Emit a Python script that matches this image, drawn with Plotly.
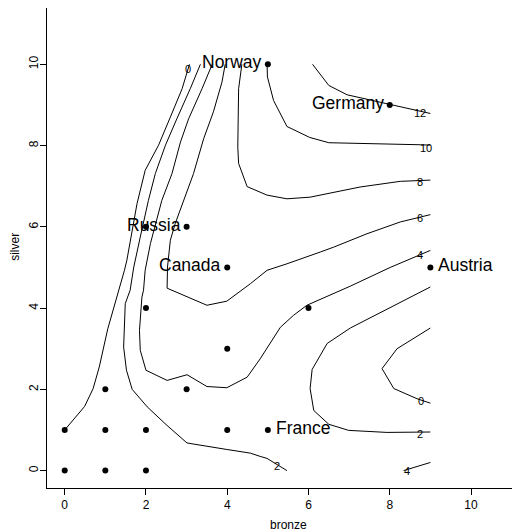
import plotly.graph_objects as go

# ---- point data (bronze, silver) ----
bronze = [0, 1, 2, 0, 1, 2, 4, 5, 1, 3, 4, 2, 6, 4, 9, 2, 3, 5, 8]
silver = [0, 0, 0, 1, 1, 1, 1, 1, 2, 2, 3, 4, 4, 5, 5, 6, 6, 10, 9]

# labelled countries
countries_left = ["Norway", "Germany", "Russia", "Canada"]
countries_left_bronze = [5, 8, 3, 4]
countries_left_silver = [10, 9, 6, 5]
countries_right = ["Austria", "France"]
countries_right_bronze = [9, 5]
countries_right_silver = [5, 1]

# ---- contour lines (bronze, silver) ----
c0a_x = [0, 0.49, 0.70, 0.85, 1.06, 1.34, 1.47, 1.53, 1.66, 1.78, 1.98, 2.31, 2.60, 2.89, 3.07]
c0a_y = [1.0, 1.58, 2.02, 2.55, 3.49, 4.44, 4.93, 5.18, 5.91, 6.57, 7.39, 8.01, 8.70, 9.40, 10.0]

c2a_x = [3.34, 3.09, 2.76, 2.48, 2.23, 2.06, 1.86, 1.70, 1.61, 1.49, 1.45, 1.52, 1.66, 2.03,
         2.52, 3.01, 3.99, 4.57, 4.81, 4.98, 5.47]
c2a_y = [10.0, 9.40, 8.66, 8.01, 7.31, 6.65, 5.75, 5.01, 4.44, 4.11, 3.04, 2.47, 2.00, 1.57,
         1.11, 0.68, 0.52, 0.43, 0.35, 0.30, 0.0]

c4a_x = [3.63, 3.38, 3.05, 2.85, 2.64, 2.39, 2.11, 1.98, 1.94, 1.90, 1.84, 1.86, 2.00, 2.52,
         3.01, 3.50, 3.99, 4.49, 4.81, 5.31, 5.63, 5.96, 7.03, 8.01, 9.0]
c4a_y = [10.0, 9.40, 8.66, 8.09, 7.31, 6.65, 5.59, 4.93, 4.44, 4.27, 3.45, 2.96, 2.47, 2.22,
         2.36, 2.07, 2.04, 2.30, 2.75, 3.53, 3.82, 4.07, 4.54, 5.00, 5.42]

c6_x = [3.95, 3.87, 3.66, 3.42, 3.17, 2.93, 2.72, 2.60, 2.53, 2.52, 3.50, 3.99, 4.57, 4.98,
        5.47, 6.29, 6.62, 7.44, 8.26, 9.0]
c6_y = [10.0, 9.56, 8.83, 8.17, 7.31, 6.65, 6.08, 5.67, 5.01, 4.49, 4.07, 4.17, 4.60, 4.93,
        5.09, 5.38, 5.50, 5.83, 6.12, 6.30]

c8_x = [4.36, 4.28, 4.26, 4.28, 4.49, 4.81, 4.98, 5.47, 6.04, 7.27, 8.26, 9.0]
c8_y = [10.0, 9.40, 7.96, 7.56, 6.99, 6.86, 6.78, 6.69, 6.73, 6.98, 7.12, 7.15]

c10_x = [4.98, 4.99, 5.14, 5.47, 6.03, 6.50, 8.75, 9.0]
c10_y = [10.0, 9.69, 9.11, 8.47, 8.20, 8.07, 8.02, 8.01]

c12_x = [6.10, 6.50, 6.95, 7.97, 9.0]
c12_y = [10.0, 9.48, 9.25, 9.02, 8.79]

c2b_x = [9.0, 7.03, 6.46, 6.09, 6.04, 6.13, 6.50, 6.99, 7.93, 9.0]
c2b_y = [4.52, 3.51, 3.13, 2.49, 2.02, 1.48, 1.14, 0.99, 0.94, 0.95]

c0b_x = [9.0, 8.18, 7.81, 8.10, 8.67, 9.0]
c0b_y = [3.51, 3.00, 2.51, 2.02, 1.77, 1.66]

c4b_x = [8.34, 9.0]
c4b_y = [0.0, 0.20]

# level of each line, which end carries the label, and the label's pixel nudge
contour_lines = [
    ("0", c0a_x, c0a_y, -1, (-1, -5)),
    ("2", c2a_x, c2a_y, -1, (-10, 5)),
    ("4", c4a_x, c4a_y, -1, (-10, -5)),
    ("6", c6_x, c6_y, -1, (-10, -3)),
    ("8", c8_x, c8_y, -1, (-10, -2)),
    ("10", c10_x, c10_y, -1, (-4, -3)),
    ("12", c12_x, c12_y, -1, (-10, 0)),
    ("2", c2b_x, c2b_y, -1, (-10, -2)),
    ("0", c0b_x, c0b_y, -1, (-9, 2)),
    ("4", c4b_x, c4b_y, 0, (3, 0)),
]

FONT = "Liberation Sans, Arial, Helvetica, sans-serif"

fig = go.Figure()
annotations = []
for level, xs, ys, end, (dx, dy) in contour_lines:
    fig.add_trace(go.Scatter(x=xs, y=ys, mode="lines",
                             line=dict(color="black", width=1),
                             hoverinfo="skip", showlegend=False))
    annotations.append(dict(x=xs[end], y=ys[end], xref="x", yref="y", text=level,
                            showarrow=False, xshift=dx, yshift=dy,
                            xanchor="center", yanchor="middle",
                            font=dict(family=FONT, size=11, color="black")))

fig.add_trace(go.Scatter(x=bronze, y=silver, mode="markers",
                         marker=dict(color="black", size=6),
                         hoverinfo="skip", showlegend=False))

for name, bx, sy in zip(countries_left, countries_left_bronze, countries_left_silver):
    annotations.append(dict(x=bx, y=sy, xref="x", yref="y", text=name, showarrow=False,
                            xanchor="right", yanchor="middle", xshift=-4, yshift=2,
                            font=dict(family=FONT, size=17.5, color="black")))
for name, bx, sy in zip(countries_right, countries_right_bronze, countries_right_silver):
    annotations.append(dict(x=bx, y=sy, xref="x", yref="y", text=name, showarrow=False,
                            xanchor="left", yanchor="middle", xshift=6, yshift=2,
                            font=dict(family=FONT, size=17.5, color="black")))

# axis titles
annotations.append(dict(x=5.5, y=-0.078, xref="x", yref="paper", text="bronze",
                        showarrow=False, xanchor="center", yanchor="middle", borderpad=0,
                        font=dict(family=FONT, size=12, color="black")))
annotations.append(dict(x=-0.0683, y=5.5, xref="paper", yref="y", text="silver",
                        showarrow=False, xanchor="center", yanchor="middle", textangle=-90,
                        borderpad=0, font=dict(family=FONT, size=12, color="black")))

tick_vals = [0, 2, 4, 6, 8, 10]
tick_text = ["0", "2", "4", "6", "8", "10"]

# the page body has an 8px margin, so the figure is 8px smaller and shifted margins
fig.update_layout(
    width=512, height=524,
    margin=dict(l=39, r=0, t=0, b=44, pad=0),
    paper_bgcolor="white", plot_bgcolor="white",
    font=dict(family=FONT, size=12, color="black"),
    annotations=annotations,
    xaxis=dict(range=[-0.436, 11.206], tickvals=tick_vals, ticktext=tick_text,
               ticks="outside", ticklen=6, tickwidth=1, tickcolor="black",
               showline=True, linecolor="black", linewidth=1, mirror=True,
               showgrid=False, zeroline=False,
               tickfont=dict(family=FONT, size=12, color="black")),
    yaxis=dict(range=[-0.428, 11.386], tickvals=tick_vals, ticktext=tick_text,
               ticks="outside", ticklen=6, tickwidth=1, tickcolor="black",
               showline=True, linecolor="black", linewidth=1, mirror=False,
               showgrid=False, zeroline=False, tickangle=-90, ticklabelstandoff=-3,
               tickfont=dict(family=FONT, size=12, color="black")),
)

fig.write_html("out.html")
